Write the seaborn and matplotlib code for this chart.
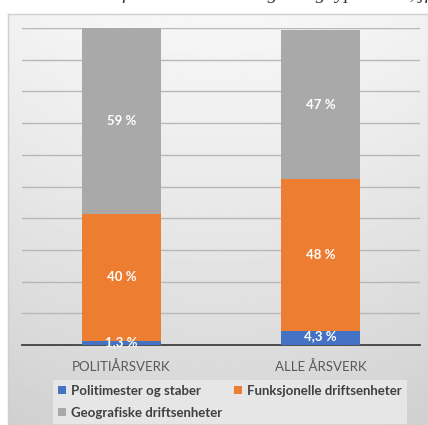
import numpy as np
import pandas as pd
import matplotlib
matplotlib.use("Agg")
import matplotlib.pyplot as plt
import seaborn as sns
from matplotlib.patches import Patch

categories = ["POLITIÅRSVERK", "ALLE ÅRSVERK"]
series_names = ["Politimester og staber", "Funksjonelle driftsenheter", "Geografiske driftsenheter"]
politimester = [1.3, 4.3]
funksjonelle = [40, 48]
geografiske = [59, 47]
label_text = [["1,3 %", "4,3 %"], ["40 %", "48 %"], ["59 %", "47 %"]]
colors = ["#4472C4", "#ED7D31", "#A9A9A9"]

sns.set_theme(style="white")
plt.rcParams["font.family"] = ["Lato", "DejaVu Sans"]

W, H = 428, 425
fig = plt.figure(figsize=(W / 100, H / 100), dpi=100)
fig.patch.set_facecolor("white")

# gradient panel behind the chart
bg = fig.add_axes([8 / W, 0, 1 - 8 / W, (H - 14) / H])
yy = np.linspace(0, 1, 200)[:, None]
xx = np.linspace(-1, 1, 200)[None, :]
shade = 0.965 - 0.13 * yy ** 1.2 - 0.02 * xx ** 2
bg.imshow(shade, cmap="gray", vmin=0, vmax=1, aspect="auto", extent=[0, 1, 0, 1], origin="upper")
bg.set_xticks([]); bg.set_yticks([])
for s in bg.spines.values():
    s.set_color("#cfcfcf"); s.set_linewidth(1)

ax = fig.add_axes([22 / W, (H - 345) / H, 398 / W, 317 / H])
ax.set_facecolor("none")

df = pd.DataFrame({
    "kategori": categories,
    "p": politimester,
    "f": funksjonelle,
    "g": geografiske,
})
df["pf"] = df["p"] + df["f"]
df["pfg"] = df["pf"] + df["g"]

for col, c in zip(["pfg", "pf", "p"], colors[::-1]):
    sns.barplot(data=df, x="kategori", y=col, color=c, width=0.4, ax=ax,
                saturation=1, edgecolor="none", zorder=3)

# segment labels
bottoms = [np.zeros(2), np.array(politimester), df["pf"].values]
vals = [politimester, funksjonelle, geografiske]
for i in range(3):
    for j in range(2):
        y = bottoms[i][j] + vals[i][j] / 2
        if i == 0:
            y = bottoms[i][j] + vals[i][j] / 2 + (0.8 if j == 1 else 0.2)
        ax.text(j, y, label_text[i][j], ha="center", va="center", color="white",
                fontsize=9.5, fontweight="bold", zorder=5)

ax.set_ylim(0, 100)
ax.set_xlim(-0.5, 1.5)
ax.set_yticks(np.arange(10, 101, 10))
ax.yaxis.grid(True, color="#b8b8b8", linewidth=1, zorder=0)
ax.set_axisbelow(True)
ax.tick_params(axis="y", left=False, labelleft=False)
ax.tick_params(axis="x", bottom=False, labelsize=9.5, labelcolor="#595959", pad=5)
ax.set_xlabel(""); ax.set_ylabel("")
for k in ["top", "right", "left"]:
    ax.spines[k].set_visible(False)
ax.spines["bottom"].set_color("#404040")
ax.spines["bottom"].set_linewidth(1.3)

# legend filled column-wise: order so rows read blue, orange / grey
order = [0, 2, 1]
handles = [Patch(facecolor=colors[k], edgecolor="none") for k in order]
labels = [series_names[k] for k in order]
leg = fig.legend(handles, labels, ncol=2, loc="upper left",
                 bbox_to_anchor=(46 / W, 1 - 373 / H), frameon=True,
                 fancybox=False, facecolor="#e6e6e6", edgecolor="none",
                 handlelength=0.6, handleheight=0.6, handletextpad=0.4,
                 columnspacing=0.9, labelspacing=0.75, borderpad=0.4,
                 prop={"size": 9.5, "weight": "bold"})
for t in leg.get_texts():
    t.set_color("#404040")
leg.get_frame().set_alpha(1)

fig.text(1.005, 1.0 + 1.5 / H, "Årsverk fordelt etter tilhørighet og type enhet, jf",
         ha="right", va="baseline", fontsize=14, style="italic",
         family="Liberation Serif", color="#333333")

fig.savefig("out.png", dpi=100)
